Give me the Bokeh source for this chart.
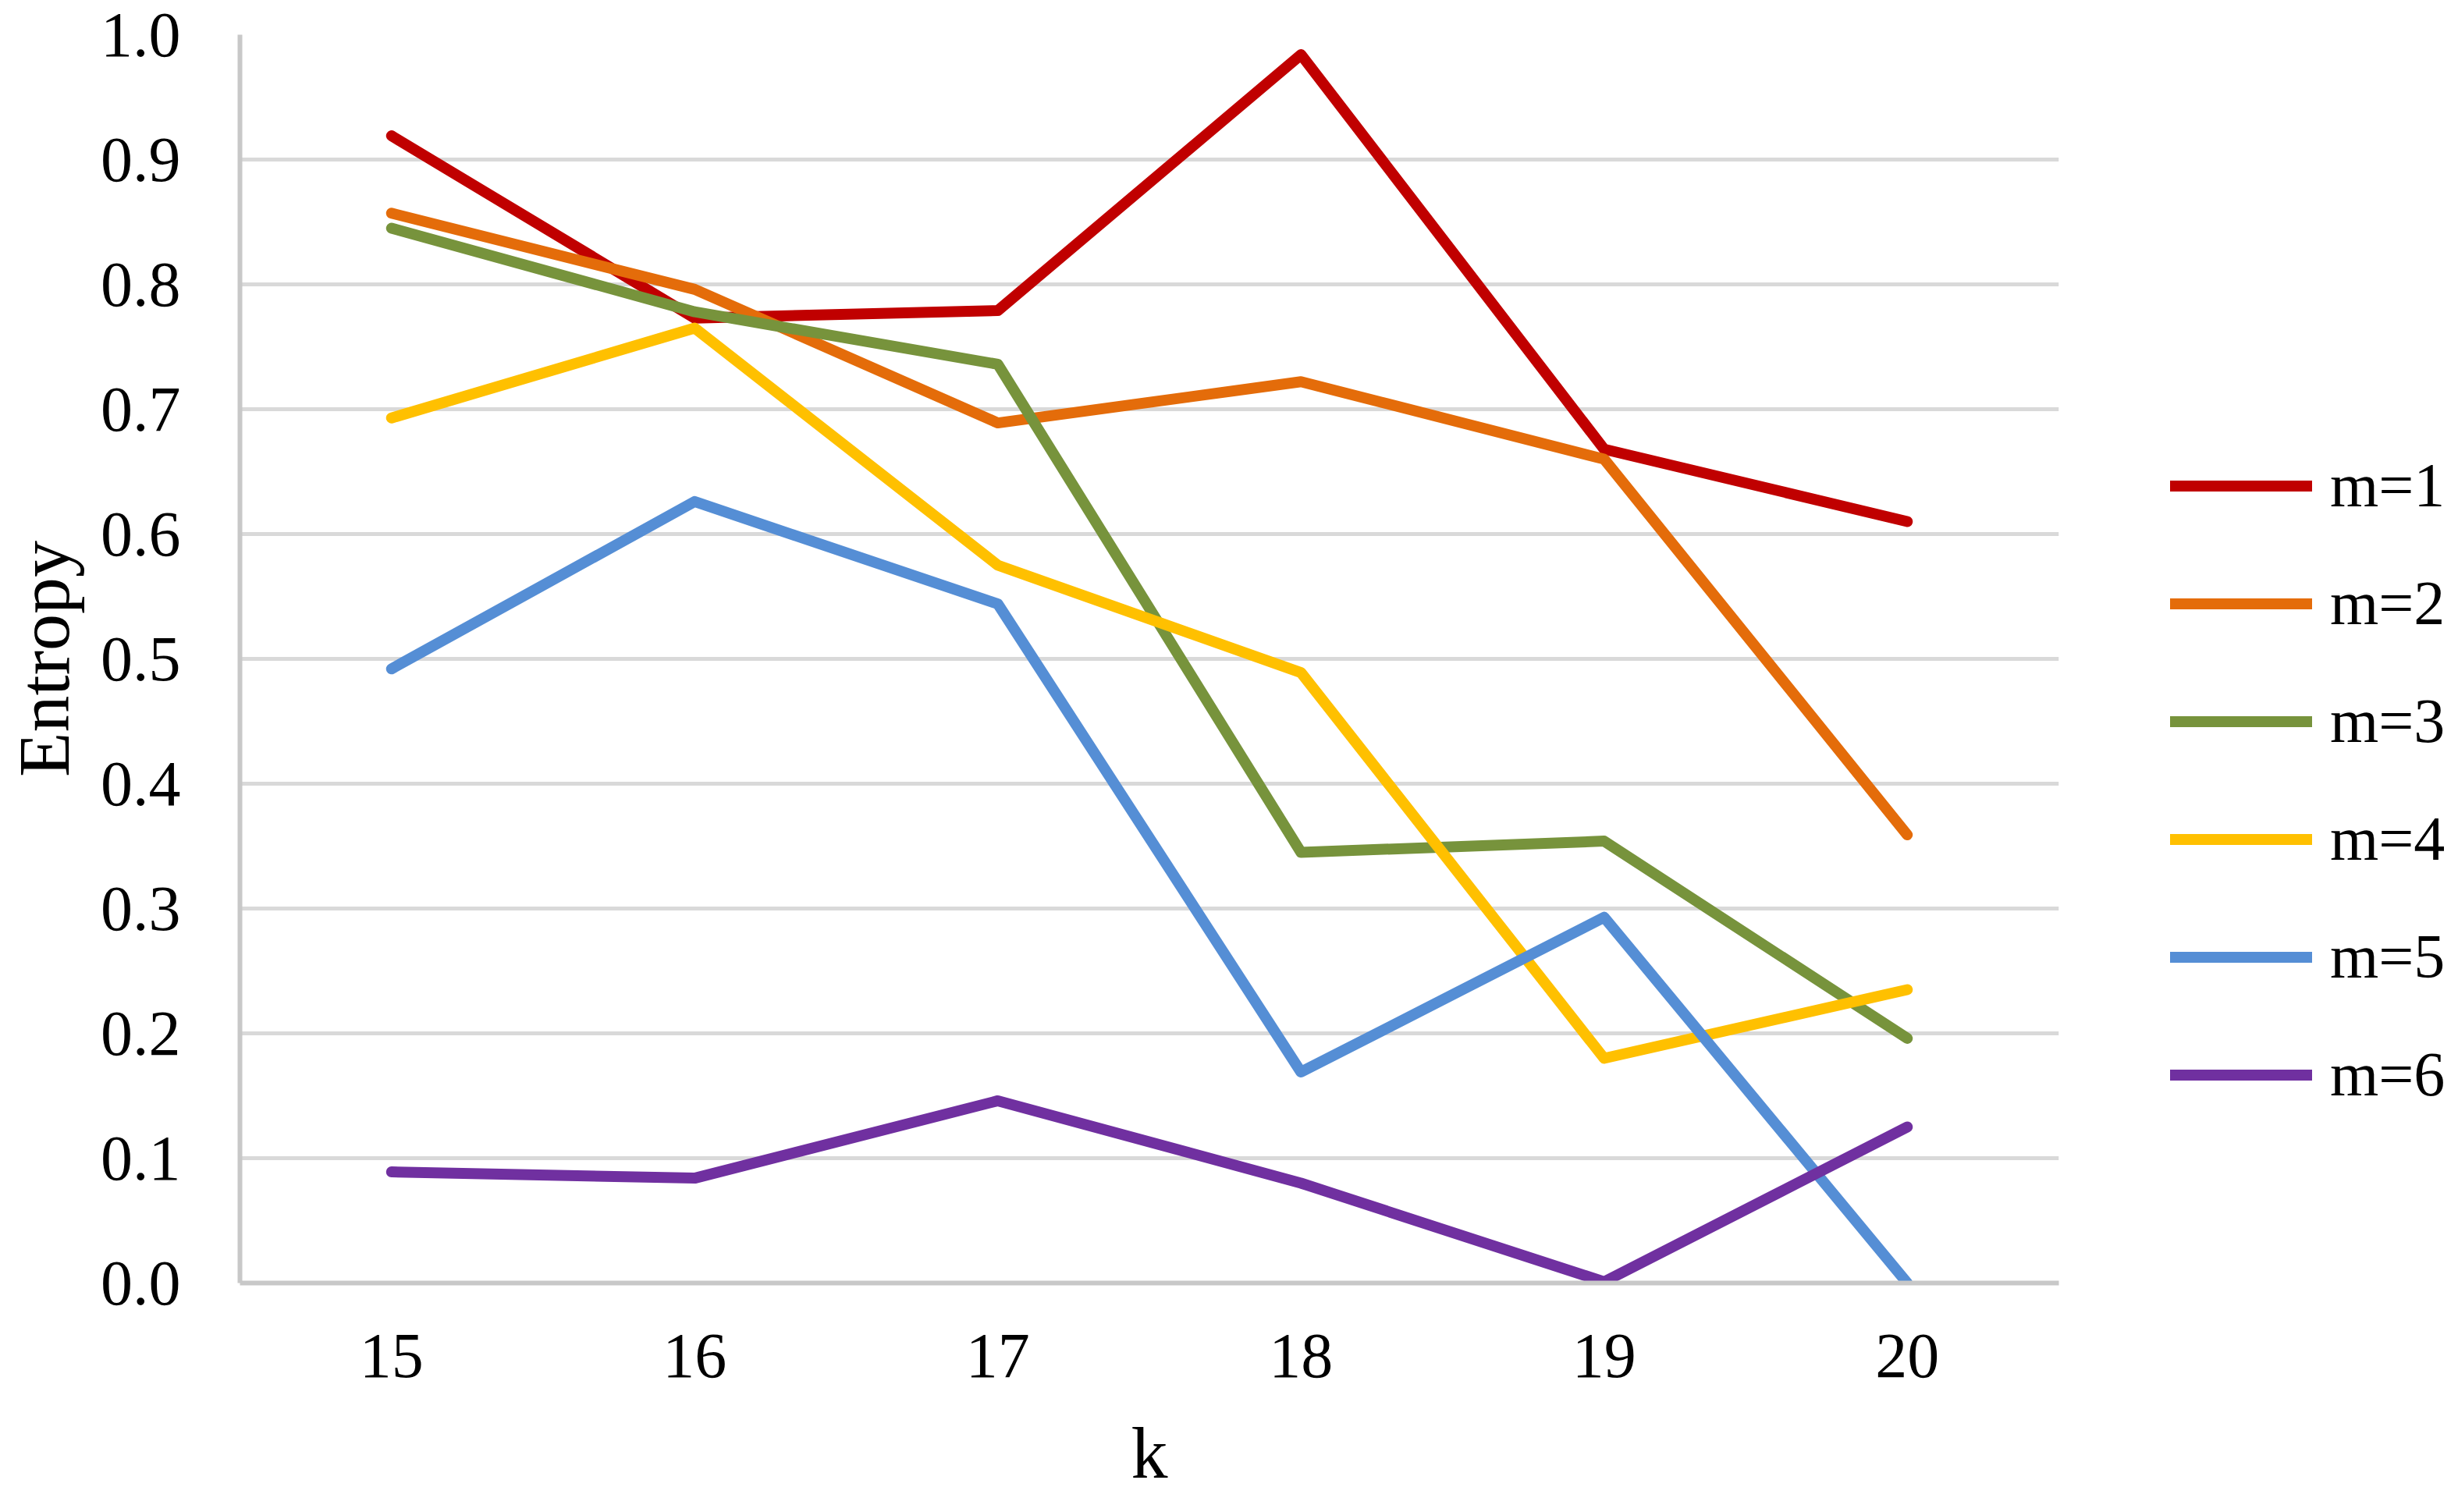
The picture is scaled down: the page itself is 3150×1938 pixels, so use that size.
from bokeh.plotting import figure
from bokeh.layouts import row
from bokeh.models import Range1d, FactorRange, Legend, LegendItem, FixedTicker, NumeralTickFormatter
from bokeh.embed import file_html
from bokeh.resources import INLINE

k_values = ["15", "16", "17", "18", "19", "20"]
m1 = [0.919, 0.773, 0.779, 0.984, 0.668, 0.610]
m2 = [0.857, 0.796, 0.689, 0.722, 0.660, 0.359]
m3 = [0.845, 0.778, 0.736, 0.345, 0.354, 0.196]
m4 = [0.693, 0.765, 0.575, 0.489, 0.180, 0.235]
m5 = [0.492, 0.626, 0.544, 0.169, 0.293, 0.000]
m6 = [0.089, 0.084, 0.146, 0.080, 0.001, 0.125]
series_labels = ["m=1", "m=2", "m=3", "m=4", "m=5", "m=6"]
series_colors = ["#C00000", "#E46C0A", "#77933C", "#FFC000", "#558ED5", "#7030A0"]
y_ticks = [0.0, 0.1, 0.2, 0.3, 0.4, 0.5, 0.6, 0.7, 0.8, 0.9, 1.0]

FONT = "Liberation Serif"
LW = 14
MAIN_W = 2654
LEG_W = 3134 - MAIN_W
H = 1922

p = figure(width=MAIN_W, height=H,
           x_range=FactorRange(*k_values, range_padding=0),
           y_range=Range1d(0, 1),
           output_backend="svg", toolbar_location=None,
           min_border_left=307, min_border_right=MAIN_W - 2638,
           min_border_top=44, min_border_bottom=H - 1644)
p.outline_line_color = None
p.background_fill_color = "white"
p.border_fill_color = "white"

p.xgrid.grid_line_color = None
p.ygrid.grid_line_color = "#D9D9D9"
p.ygrid.grid_line_width = 5
p.yaxis.ticker = FixedTicker(ticks=y_ticks)
p.yaxis.formatter = NumeralTickFormatter(format="0.0")

for ax in (p.xaxis[0], p.yaxis[0]):
    ax.major_tick_line_color = None
    ax.minor_tick_line_color = None
    ax.major_tick_out = 0
    ax.major_tick_in = 0
    ax.minor_tick_out = 0
    ax.axis_line_color = "#C8C8C8"
    ax.axis_line_width = 6
    ax.major_label_text_font = FONT
    ax.major_label_text_font_size = "82px"
    ax.major_label_text_color = "black"
    ax.axis_label_text_font = FONT
    ax.axis_label_text_font_size = "94px"
    ax.axis_label_text_font_style = "normal"
    ax.axis_label_text_color = "black"

p.yaxis.axis_label = "Entropy"
p.yaxis.major_label_standoff = 76
p.yaxis.axis_label_standoff = 18
p.xaxis.axis_label = "k"
p.xaxis.major_label_standoff = 66
p.xaxis.axis_label_standoff = 42

for vals, col in zip([m1, m2, m3, m4, m5, m6], series_colors):
    p.line(k_values, vals, line_color=col, line_width=LW,
           line_cap="round", line_join="round")

# legend panel (separate figure to the right, no axes)
q = figure(width=LEG_W, height=H, x_range=Range1d(0, 1), y_range=Range1d(0, 1),
           output_backend="svg", toolbar_location=None,
           x_axis_location=None, y_axis_location=None,
           min_border_left=0, min_border_right=0, min_border_top=0, min_border_bottom=0)
q.outline_line_color = None
q.xgrid.grid_line_color = None
q.ygrid.grid_line_color = None
q.border_fill_color = "white"
q.background_fill_color = "white"

items = []
for lab, col in zip(series_labels, series_colors):
    r = q.line(x=[-10, -9], y=[-10, -9], line_color=col, line_width=LW, line_cap="round")
    items.append(LegendItem(label=lab, renderers=[r]))

legend = Legend(items=items, location=(2781 - MAIN_W, 191), orientation="vertical",
                glyph_width=182, glyph_height=151, label_height=151,
                spacing=0, padding=0, margin=0, label_standoff=23,
                border_line_color=None, background_fill_alpha=0,
                label_text_font=FONT, label_text_font_size="80px",
                label_text_color="black")
q.add_layout(legend)

layout = row(p, q, spacing=0)
open("out.html", "w").write(file_html(layout, INLINE))
